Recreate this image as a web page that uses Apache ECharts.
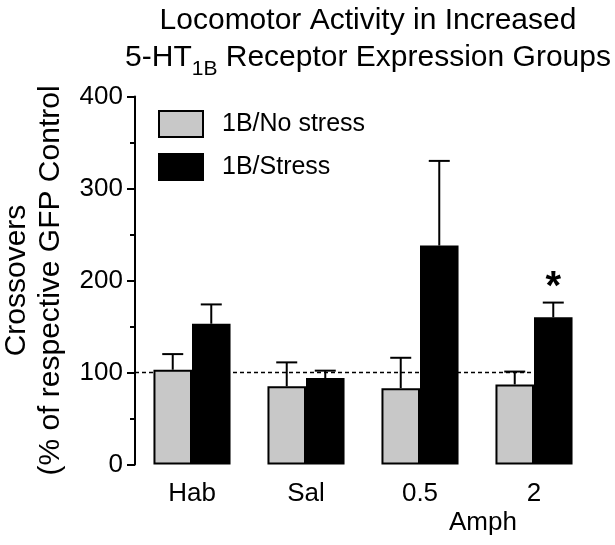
<!DOCTYPE html>
<html><head><meta charset="utf-8">
<script src="https://cdn.jsdelivr.net/npm/echarts@6/dist/echarts.min.js"></script>
<style>html,body{margin:0;padding:0;background:#fff}#c{width:615px;height:545px}</style>
</head><body><div id="c"></div>
<script>
const categories = ['Hab', 'Sal', '0.5', '2'];
const seriesNames = ['1B/No stress', '1B/Stress'];
const noStress = [103, 85, 83, 87];
const noStressErr = [17, 26, 33, 14];
const stress = [153, 94, 238, 160];
const stressErr = [21, 8, 92, 16];
const stressSig = ['', '', '', '*'];
const yMin = 0, yMax = 400, yStep = 100;
const refLevel = 100;
const refSpan = [0, 3.7];

const FONT = '"Liberation Sans", Arial, Helvetica, sans-serif';
const barFrac = 0.338;
const capHalf = 10.5;
const starGap = 15;

function errSeries(vals, errs, side, sig) {
  return {
    type: 'custom', z: 4, silent: true, xAxisIndex: 0, yAxisIndex: 0,
    data: vals.map((v, i) => [i, v, errs[i]]),
    renderItem(params, api) {
      const i = api.value(0), v = api.value(1), e = api.value(2);
      const band = api.size([1, 0])[0];
      const bw = band * barFrac;
      const base = api.coord([i, v]);
      const top = api.coord([i, v + e]);
      const cx = base[0] + side * bw / 2;
      const children = [
        {type: 'line', shape: {x1: cx, y1: base[1], x2: cx, y2: top[1]}, style: {stroke: '#000', lineWidth: 2}},
        {type: 'line', shape: {x1: cx - capHalf, y1: top[1], x2: cx + capHalf, y2: top[1]}, style: {stroke: '#000', lineWidth: 2}}
      ];
      const s = sig ? sig[params.dataIndex] : '';
      if (s) children.push({type: 'text', x: cx, y: top[1] - starGap,
        style: {text: s, fill: '#000', font: 'bold 40px ' + FONT, align: 'center', verticalAlign: 'middle'}});
      return {type: 'group', children};
    }
  };
}

const chart = echarts.init(document.getElementById('c'), null, {renderer: 'canvas'});
chart.setOption({
  animation: false,
  backgroundColor: '#fff',
  textStyle: {fontFamily: FONT, color: '#000'},
  title: {
    text: 'Locomotor Activity in Increased',
    subtext: '{n|5-HT}{s|1B}{n| Receptor Expression Groups}',
    left: 363, textAlign: 'center', top: 1, itemGap: -1,
    textStyle: {fontSize: 30, fontWeight: 'normal', color: '#000', fontFamily: FONT},
    subtextStyle: {
      color: '#000', fontFamily: FONT,
      rich: {
        n: {fontSize: 30, color: '#000', fontFamily: FONT},
        s: {fontSize: 21, color: '#000', fontFamily: FONT, padding: [24, 0, 0, 0]}
      }
    }
  },
  legend: {
    orient: 'vertical', left: 158, top: 110, padding: 0,
    itemWidth: 44, itemHeight: 26, itemGap: 15,
    icon: 'rect',
    data: seriesNames,
    textStyle: {fontSize: 25, color: '#000', fontFamily: FONT, padding: [0, 0, 0, 14]}
  },
  grid: {left: 135, right: 24, top: 96.5, bottom: 80.5, containLabel: false, outerBoundsMode: 'none'},
  xAxis: [
    {type: 'category', data: categories,
     axisLine: {show: false}, axisTick: {show: false},
     axisLabel: {fontSize: 26, color: '#000', fontFamily: FONT, margin: 16}},
    {type: 'value', min: 0, max: categories.length, show: false}
  ],
  yAxis: {
    type: 'value', min: yMin, max: yMax, interval: yStep,
    name: 'Crossovers\n(% of respective GFP Control',
    nameLocation: 'middle', nameGap: 67, nameRotate: 90,
    nameTextStyle: {fontSize: 30, color: '#000', fontFamily: FONT, lineHeight: 34},
    axisLine: {show: true, lineStyle: {color: '#000', width: 2}},
    axisTick: {show: true, length: 8, lineStyle: {color: '#000', width: 2}},
    minorTick: {show: true, splitNumber: 2, length: 5, lineStyle: {color: '#000', width: 2}},
    splitLine: {show: false},
    axisLabel: {fontSize: 26, color: '#000', fontFamily: FONT, margin: 12}
  },
  graphic: [
    {type: 'text', left: 449, top: 510, style: {text: 'Amph', fill: '#000', font: '26px ' + FONT}}
  ],
  series: [
    {type: 'line', xAxisIndex: 1, yAxisIndex: 0, z: 1, silent: true, symbol: 'none',
     data: refSpan.map(x => [x, refLevel]),
     lineStyle: {color: '#000', width: 1.5, type: [4, 3]}},
    {name: seriesNames[0], type: 'bar', z: 2, data: noStress, barWidth: (barFrac * 100) + '%', barGap: '0%',
     itemStyle: {color: '#c8c8c8', borderColor: '#000', borderWidth: 2}},
    {name: seriesNames[1], type: 'bar', z: 2, data: stress, barWidth: (barFrac * 100) + '%', barGap: '0%',
     itemStyle: {color: '#000', borderColor: '#000', borderWidth: 2}},
    errSeries(noStress, noStressErr, -1, null),
    errSeries(stress, stressErr, 1, stressSig)
  ]
});
</script>
</body></html>
